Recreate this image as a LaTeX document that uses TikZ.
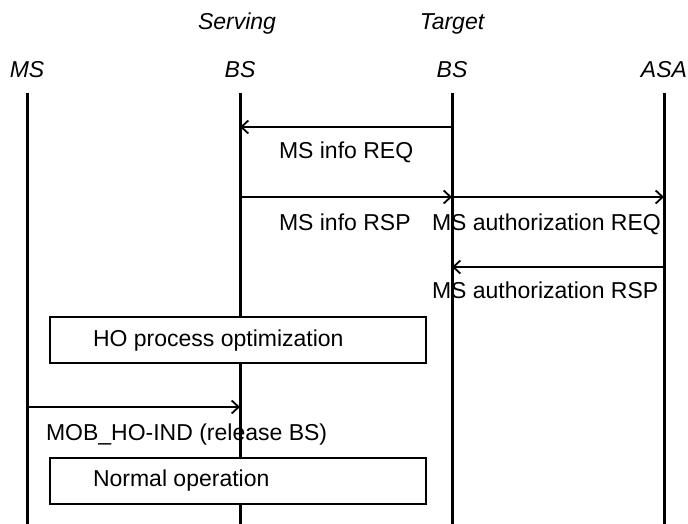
\documentclass[tikz,border=0pt]{standalone}
\usepackage{fontspec}
\setmainfont{Liberation Sans}
\usetikzlibrary{arrows.meta}

\begin{document}
\begin{tikzpicture}[x=1pt,y=-1pt,
  life/.style={line width=3.0pt},
  msg/.style={line width=1.8pt, -{Straight Barb[length=7pt,width=13pt,line width=1.8pt]}},
  head/.style={inner sep=0, outer sep=0, anchor=base, font=\fontsize{23pt}{23pt}\itshape},
  lbl/.style={inner sep=0, outer sep=0, anchor=base west, font=\fontsize{23pt}{23pt}\selectfont},
  procbox/.style={draw, line width=1.5pt, fill=white, inner sep=0, anchor=north west, minimum width=376pt, minimum height=46pt}]
\useasboundingbox (0,0) rectangle (688,524);
% heads
\node[head] (servtop) at (237,30) {Serving};
\node[head] (targtop) at (452,30) {Target};
\node[head] (ms)  at (27,78)  {MS};
\node[head] (sbs) at (240,78) {BS};
\node[head] (tbs) at (452,78) {BS};
\node[head] (asa) at (664,78) {ASA};
% lifeline ends
\coordinate (ms0)  at (27,93);  \coordinate (ms1)  at (27,524);
\coordinate (sbs0) at (240,93); \coordinate (sbs1) at (240,524);
\coordinate (tbs0) at (452,93); \coordinate (tbs1) at (452,524);
\coordinate (asa0) at (664,93); \coordinate (asa1) at (664,524);
\draw[life] (ms0) -- (ms1);
\draw[life] (sbs0) -- (sbs1);
\draw[life] (tbs0) -- (tbs1);
\draw[life] (asa0) -- (asa1);
% message points
\coordinate (sbsA) at (240,127); \coordinate (tbsA) at (452,127);
\coordinate (sbsB) at (240,197); \coordinate (tbsB) at (452,197); \coordinate (asaB) at (664,197);
\coordinate (tbsC) at (452,267); \coordinate (asaC) at (664,267);
\coordinate (msD)  at (27,407);  \coordinate (sbsD) at (240,407);
% messages
\draw[msg] (tbsA) -- (sbsA);
\node[lbl] (inforeq) at (279,159) {MS info REQ};
\draw[msg] (sbsB) -- (tbsB);
\node[lbl] (inforsp) at (279,230) {MS info RSP};
\draw[msg] (tbsB) -- (asaB);
\node[lbl] (authreq) at (432,230) {MS authorization REQ};
\draw[msg] (asaC) -- (tbsC);
\node[lbl] (authrsp) at (432,298) {MS authorization RSP};
% HO process
\node[procbox] (hobox) at (49,316) {};
\node[lbl] (hotext) at (93,346) {HO process optimization};
\draw[msg] (msD) -- (sbsD);
\node[lbl] (mobind) at (46,440) {MOB\_HO-IND (release BS)};
% normal
\node[procbox] (normbox) at (49,457) {};
\node[lbl] (normtext) at (93,486) {Normal operation};
\end{tikzpicture}
\end{document}
